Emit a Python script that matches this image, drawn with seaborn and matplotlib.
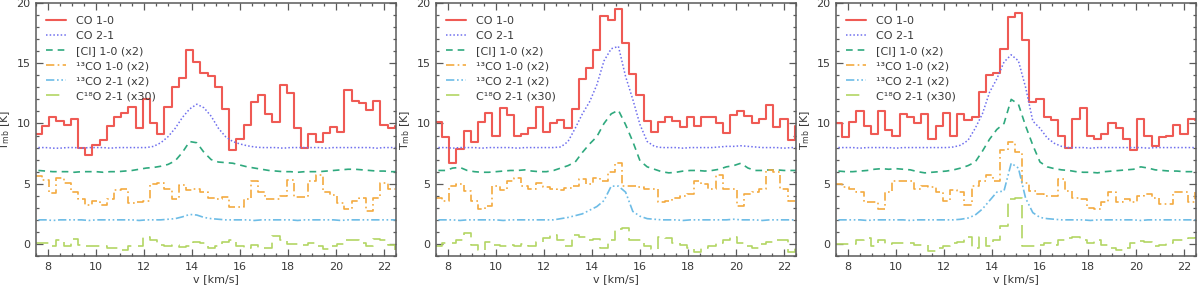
import numpy as np
import pandas as pd
import matplotlib
matplotlib.use("Agg")
import matplotlib.pyplot as plt
from matplotlib.ticker import MultipleLocator
import seaborn as sns

# ---------------- data (main-beam temperatures, offsets/scales already applied) -------------
V_EDGE0 = 7.45      # left edge of first channel [km/s]
DV = 0.3            # channel width [km/s]
NCH = 51

series_names = ["CO 1-0", "CO 2-1", "[CI] 1-0 (x2)", "\u00b9\u00b3CO 1-0 (x2)",
                "\u00b9\u00b3CO 2-1 (x2)", "C\u00b9\u2078O 2-1 (x30)"]

# ---- panel 1
co10_p1 = [9.1, 9.8, 10.5, 10.2, 9.9, 10.4, 8.0, 7.4, 8.2, 8.6, 9.8, 10.5, 10.9, 11.4, 9.6, 12.0, 10.0,
           9.1, 11.4, 13.0, 13.8, 16.1, 15.1, 14.2, 13.9, 13.0, 11.2, 7.8, 8.7, 9.9, 11.8, 12.4, 10.8,
           10.1, 13.2, 12.5, 9.6, 8.0, 9.1, 8.5, 9.2, 9.7, 9.3, 12.8, 11.9, 11.7, 11.1, 11.9, 9.9, 9.6, 9.8]
co21_p1 = [8.0, 8.0, 7.95, 7.95, 8.0, 8.0, 7.95, 8.0, 8.0, 8.0, 7.95, 8.0, 8.0, 8.0, 8.0, 8.0, 8.1,
           8.4, 8.9, 9.6, 10.5, 11.2, 11.6, 11.3, 10.6, 9.6, 8.9, 8.5, 8.3, 8.15, 8.05, 8.0, 8.0, 8.0,
           7.95, 8.0, 8.0, 8.0, 8.0, 8.0, 7.95, 8.0, 8.0, 8.0, 8.0, 8.0, 8.0, 7.95, 8.0, 8.0, 8.0]
ci_p1 = [6.1, 6.05, 6.0, 6.0, 6.0, 5.95, 6.0, 6.0, 6.0, 5.95, 6.0, 6.0, 6.05, 6.1, 6.2, 6.3, 6.35,
         6.45, 6.6, 6.9, 7.6, 8.5, 8.4, 7.6, 7.0, 6.8, 6.75, 6.7, 6.55, 6.4, 6.3, 6.2, 6.1, 6.05, 6.0,
         6.0, 5.95, 6.0, 6.0, 6.0, 6.05, 6.1, 6.15, 6.2, 6.2, 6.15, 6.1, 6.05, 6.05, 6.0, 6.0]
co13_10_p1 = [5.6, 5.3, 4.2, 5.5, 5.05, 4.3, 3.7, 3.2, 3.6, 3.2, 3.7, 4.5, 4.6, 3.4, 3.45, 3.6, 5.0,
              5.05, 4.6, 3.75, 4.9, 4.5, 4.6, 4.3, 3.8, 3.7, 3.9, 3.05, 3.05, 3.7, 5.2, 4.35, 3.7,
              3.7, 3.95, 5.3, 3.9, 3.9, 5.2, 5.75, 4.35, 4.1, 3.4, 2.9, 3.6, 3.8, 2.7, 3.8, 5.05, 4.6, 4.6]
co13_21_p1 = [2.0, 2.0, 1.95, 2.0, 2.0, 2.0, 2.0, 1.95, 2.0, 2.0, 2.0, 2.0, 2.0, 2.0, 1.95, 2.0, 2.0,
              2.0, 2.05, 2.1, 2.25, 2.45, 2.4, 2.2, 2.1, 2.05, 2.0, 2.0, 2.0, 2.0, 1.95, 2.0, 2.0, 2.0,
              2.0, 2.0, 1.95, 2.0, 2.0, 2.0, 2.0, 2.0, 1.95, 2.0, 2.0, 2.0, 2.0, 2.0, 2.0, 2.0, 2.0]
c18o_p1 = [0.05, 0.05, -0.15, 0.3, -0.2, 0.4, -0.1, -0.2, -0.2, -0.2, -0.35, -0.3, -0.5, -0.2, -0.2,
           0.55, 0.3, -0.1, -0.15, -0.1, -0.25, -0.15, 0.2, 0.05, -0.35, -0.15, 0.2, 0.3, -0.2, -0.35,
           -0.1, -0.35, -0.35, 0.65, 0.3, 0.0, 0.0, -0.1, 0.05, -0.15, -0.45, -0.2, 0.0, 0.35, 0.3,
           0.05, -0.15, 0.4, 0.3, -0.1, -0.5]

# ---- panel 2
co10_p2 = [10.1, 8.9, 6.7, 7.9, 9.4, 8.5, 10.1, 10.9, 9.0, 11.3, 10.7, 9.0, 9.1, 9.6, 11.4, 9.3, 10.0,
           10.3, 9.6, 11.2, 13.7, 14.6, 16.1, 18.9, 18.6, 19.5, 16.7, 14.1, 12.4, 10.2, 9.3, 10.1,
           10.5, 10.2, 9.7, 10.55, 9.8, 10.55, 10.5, 10.0, 9.2, 10.7, 11.0, 10.6, 10.0, 10.4, 11.5,
           9.7, 10.4, 8.6, 9.8]
co21_p2 = [8.0, 8.0, 7.95, 8.0, 8.0, 8.0, 7.95, 8.0, 8.0, 8.0, 8.0, 7.95, 8.0, 8.0, 8.0, 8.0, 8.0,
           8.05, 8.5, 9.6, 10.8, 11.8, 13.2, 15.2, 16.2, 16.4, 13.9, 12.0, 9.9, 8.5, 8.1, 8.0, 8.0,
           8.0, 7.95, 8.0, 8.0, 8.0, 8.0, 8.05, 8.1, 8.1, 8.15, 8.1, 8.05, 8.0, 8.0, 8.0, 7.95, 8.0, 8.0]
ci_p2 = [6.1, 6.1, 6.3, 6.35, 6.1, 6.0, 5.95, 5.95, 6.0, 6.05, 6.1, 6.1, 6.15, 6.05, 6.0, 6.0, 6.1,
         6.3, 6.5, 6.8, 7.6, 8.3, 8.9, 10.0, 10.8, 11.1, 9.9, 8.5, 6.9, 6.4, 6.2, 6.0, 5.9, 5.95,
         6.05, 6.1, 6.1, 6.05, 6.1, 6.2, 6.4, 6.5, 6.7, 6.3, 6.1, 6.1, 6.15, 6.15, 6.1, 6.1, 6.1]
co13_10_p2 = [3.8, 3.6, 4.85, 5.0, 4.4, 3.6, 2.9, 3.15, 4.85, 4.5, 5.2, 5.45, 4.8, 4.55, 5.1, 4.7,
              4.55, 4.5, 4.65, 4.85, 5.4, 5.0, 5.45, 5.25, 5.95, 6.75, 4.85, 4.85, 4.7, 4.6, 4.6,
              3.5, 3.6, 3.8, 4.0, 4.15, 5.25, 5.0, 4.55, 5.7, 4.55, 4.55, 3.15, 4.15, 4.3, 4.55,
              6.1, 5.95, 4.6, 3.6, 3.6]
co13_21_p2 = [2.0, 2.0, 2.0, 1.95, 2.0, 2.0, 2.0, 2.0, 2.0, 1.95, 2.0, 2.0, 2.0, 2.0, 2.0, 2.0, 2.0,
              2.1, 2.2, 2.35, 2.5, 2.8, 3.1, 3.6, 4.8, 4.8, 4.3, 2.7, 2.3, 2.1, 2.05, 2.0, 2.0, 2.0,
              1.95, 2.0, 2.0, 2.0, 2.0, 2.0, 2.0, 2.05, 2.0, 2.0, 2.0, 1.95, 2.0, 2.0, 2.0, 2.0, 2.0]
c18o_p2 = [-0.2, 0.05, 0.1, 0.35, 0.95, -0.1, -0.5, 0.2, -0.1, -0.2, -0.1, -0.15, 0.0, -0.15, 0.2,
           0.5, 0.75, 0.35, -0.2, 0.75, 0.6, 0.35, 0.45, -0.3, 0.3, 1.25, 1.3, 0.35, 0.35, -0.15,
           -0.45, 0.6, 0.5, 0.05, -0.1, -0.35, -0.65, -0.35, -0.15, 0.05, 0.35, 0.55, 0.1, -0.15,
           -0.3, 0.0, 0.2, 0.35, 0.3, -0.65, -0.15]

# ---- panel 3
co10_p3 = [10.05, 8.9, 10.1, 11.0, 9.8, 9.1, 11.0, 9.5, 9.0, 10.8, 10.5, 10.0, 10.75, 8.75, 9.8,
           10.9, 9.0, 10.8, 10.3, 10.5, 12.6, 14.0, 14.2, 16.2, 18.8, 19.2, 16.9, 11.8, 12.05, 10.55,
           10.3, 9.0, 8.0, 10.4, 11.3, 9.0, 8.7, 9.1, 10.0, 9.6, 8.7, 7.8, 10.4, 9.0, 8.1, 8.85,
           9.0, 9.9, 9.1, 10.4, 10.3]
co21_p3 = [8.0, 8.0, 8.0, 7.95, 8.0, 8.0, 8.0, 8.0, 7.95, 8.0, 8.0, 8.0, 8.0, 8.0, 8.0, 8.0, 8.05,
           8.2, 8.6, 9.6, 10.8, 12.6, 13.7, 15.1, 15.7, 15.2, 13.0, 10.2, 9.6, 8.8, 8.35, 8.1, 8.0,
           8.0, 8.0, 7.95, 8.0, 8.0, 8.0, 8.0, 8.0, 8.0, 8.0, 7.95, 8.0, 8.0, 8.0, 8.0, 8.0, 8.0, 8.0]
ci_p3 = [6.05, 6.0, 6.0, 6.05, 6.1, 6.2, 6.25, 6.2, 6.25, 6.2, 6.15, 6.0, 5.9, 5.95, 6.0, 6.05, 6.15,
         6.3, 6.5, 6.8, 7.7, 8.7, 9.5, 10.0, 12.0, 11.6, 9.8, 8.2, 6.8, 6.4, 6.25, 6.15, 6.1, 6.0,
         5.95, 5.95, 5.9, 6.0, 6.05, 6.1, 6.15, 6.2, 6.4, 6.3, 6.15, 6.1, 6.05, 6.05, 6.0, 6.0, 6.0]
co13_10_p3 = [5.0, 4.7, 4.55, 4.35, 3.5, 3.5, 2.9, 4.35, 5.25, 5.2, 5.2, 4.55, 4.85, 4.7, 4.3, 3.6,
              4.5, 4.3, 3.2, 4.85, 5.2, 5.75, 5.25, 7.8, 8.5, 7.6, 5.1, 4.4, 4.15, 4.0, 4.0, 5.4,
              4.4, 3.85, 3.7, 3.0, 2.9, 3.45, 4.3, 3.45, 3.7, 3.45, 4.0, 4.15, 3.85, 3.3, 3.3, 4.3,
              4.35, 3.45, 4.3]
co13_21_p3 = [2.0, 2.0, 2.0, 2.0, 1.95, 2.0, 2.0, 2.0, 2.0, 2.0, 1.95, 2.0, 2.0, 2.0, 2.0, 2.0, 2.0,
              2.05, 2.15, 2.4, 2.9, 3.6, 4.3, 4.4, 6.7, 6.3, 3.8, 2.6, 2.2, 2.1, 2.05, 2.0, 2.0, 2.0,
              2.0, 1.95, 2.0, 2.0, 2.0, 2.0, 2.0, 2.0, 1.95, 2.0, 2.0, 2.0, 2.0, 2.0, 2.0, 2.0, 2.0]
c18o_p3 = [0.0, 0.0, 0.0, 0.35, 0.5, -0.15, 0.3, 0.0, 0.1, 0.05, 0.05, -0.05, -0.1, -0.55, -0.35,
           -0.2, 0.05, 0.2, 0.6, -0.3, 0.6, -0.2, 0.35, 1.45, 3.7, 3.8, -0.15, -0.2, -0.1, 0.05,
           -0.1, 0.3, 0.5, 0.6, 0.3, 0.05, 0.35, -0.1, -0.3, -0.5, -0.35, 0.05, 0.25, 0.2, -0.2,
           -0.1, 0.05, 0.3, 0.35, 0.5, 0.6]

panels = [
    [co10_p1, co21_p1, ci_p1, co13_10_p1, co13_21_p1, c18o_p1],
    [co10_p2, co21_p2, ci_p2, co13_10_p2, co13_21_p2, c18o_p2],
    [co10_p3, co21_p3, ci_p3, co13_10_p3, co13_21_p3, c18o_p3],
]

x_ticks = [8, 10, 12, 14, 16, 18, 20, 22]
y_ticks = [0, 5, 10, 15, 20]

# ---------------- styles ----------------
colors = ["#ef5a54", "#6f6fee", "#2fa97e", "#f4aa40", "#6dbce6", "#b3d663"]
styles = ["-", (0, (1, 1.4)), (0, (4, 3)), (0, (5, 2, 1, 2)), (0, (5, 1.6, 1, 1.6, 1, 1.6)), (0, (8, 4))]
widths = [1.5, 1.1, 1.2, 1.2, 1.2, 1.2]
stepped = [True, False, False, True, False, True]

sns.set_style("ticks")
plt.rcParams["font.family"] = ["DejaVu Sans"]
plt.rcParams["mathtext.default"] = "regular"

edges = V_EDGE0 + DV * np.arange(NCH)
centers = edges + DV / 2

fig = plt.figure(figsize=(12, 2.89), dpi=100)
lefts = [36 / 1200, 436 / 1200, 836 / 1200]
gray = "#5a5a5a"
txt = "#3a3a3a"

for p, left in enumerate(lefts):
    ax = fig.add_axes([left, 33 / 289, 360 / 1200, 253 / 289])
    for k, vals in enumerate(panels[p]):
        x = edges if stepped[k] else centers
        df = pd.DataFrame({"v": x, "T": vals})
        sns.lineplot(data=df, x="v", y="T", ax=ax, color=colors[k], linestyle=styles[k],
                     linewidth=widths[k], errorbar=None, label=series_names[k],
                     drawstyle="steps-post" if stepped[k] else "default")
    ax.set_xlim(7.5, 22.5)
    ax.set_ylim(-1, 20)
    ax.set_xticks(x_ticks)
    ax.set_yticks(y_ticks)
    ax.xaxis.set_minor_locator(MultipleLocator(0.5))
    ax.yaxis.set_minor_locator(MultipleLocator(1))
    ax.tick_params(which="both", direction="in", top=True, right=True, color=gray,
                   labelsize=8, labelcolor=txt, width=0.9)
    ax.tick_params(which="major", length=5, pad=4)
    ax.tick_params(which="minor", length=2.5)
    for s in ax.spines.values():
        s.set_color(gray)
        s.set_linewidth(1.1)
    ax.set_xlabel("v [km/s]", fontsize=8, color=txt, labelpad=2)
    ax.set_ylabel("T$_{mb}$ [K]", fontsize=8, color=txt)
    ax.yaxis.set_label_coords(-0.066, 0.5)
    leg = ax.legend(loc="upper left", bbox_to_anchor=(0.028, 0.948), frameon=False,
                    fontsize=8, handlelength=1.8, handletextpad=0.9, labelspacing=0.45,
                    borderpad=0, borderaxespad=0)
    for t in leg.get_texts():
        t.set_color(txt)

fig.savefig("out.png", dpi=100)
